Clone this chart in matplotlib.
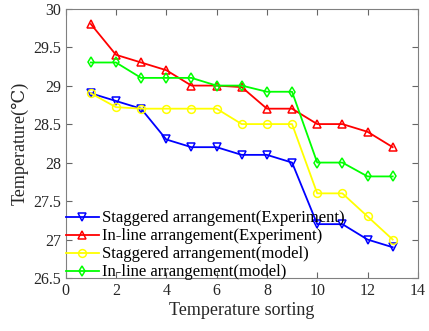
import matplotlib.pyplot as plt
import numpy as np

plt.rcParams['font.family'] = ['Liberation Serif', 'DejaVu Serif']

# temperature sorting positions
x = np.arange(1, 14)
stag_exp = [28.9, 28.8, 28.7, 28.3, 28.2, 28.2, 28.1, 28.1, 28.0, 27.2, 27.2, 27.0, 26.9]
inline_exp = [29.8, 29.4, 29.3, 29.2, 29.0, 29.0, 28.98, 28.7, 28.7, 28.5, 28.5, 28.4, 28.2]
stag_model = [28.9, 28.72, 28.7, 28.7, 28.7, 28.7, 28.5, 28.5, 28.5, 27.6, 27.6, 27.3, 27.0]
inline_model = [29.3, 29.3, 29.1, 29.1, 29.1, 29.0, 29.0, 28.92, 28.92, 28.0, 28.0, 27.82, 27.82]

fig = plt.figure(figsize=(4.29, 3.31), dpi=100)
ax = fig.add_axes([0.153, 0.16, 0.821, 0.814])

kw = dict(lw=1.3, ms=5.6, mfc='none', mew=1.1)
ax.plot(x, stag_exp, 'v-', color=(0, 0, 1), label='Staggered arrangement(Experiment)', **kw)
ax.plot(x, inline_exp, '^-', color=(1, 0, 0), label='In-line arrangement(Experiment)', **kw)
ax.plot(x, stag_model, 'o-', color=(1, 1, 0), label='Staggered arrangement(model)', **kw)
ax.plot(x, inline_model, 'd-', color=(0, 1, 0), label='In-line arrangement(model)', **kw)

ax.set_xlim(0, 14)
ax.set_ylim(26.5, 30)
ax.set_xticks(range(0, 15, 2))
ax.set_yticks(np.arange(26.5, 30.01, 0.5))
ax.set_yticklabels(['26.5', '27', '27.5', '28', '28.5', '29', '29.5', '30'])
ax.tick_params(direction='in', top=True, right=True, labelsize=11.5, colors='#666666',
               labelcolor='#262626', length=4)
for s in ax.spines.values():
    s.set_color('#808080')
    s.set_linewidth(0.8)

ax.set_xlabel('Temperature sorting', fontsize=13, color='#262626', labelpad=2)
ax.set_ylabel('Temperature(\u2103)', fontsize=13, color='#262626', labelpad=3)

ax.legend(loc='lower left', bbox_to_anchor=(0.0, -0.009), frameon=False, fontsize=12,
          handlelength=2.0, handletextpad=0.16, labelspacing=0.12, borderaxespad=0.0,
          borderpad=0.0)

fig.savefig('out.png', dpi=100)
